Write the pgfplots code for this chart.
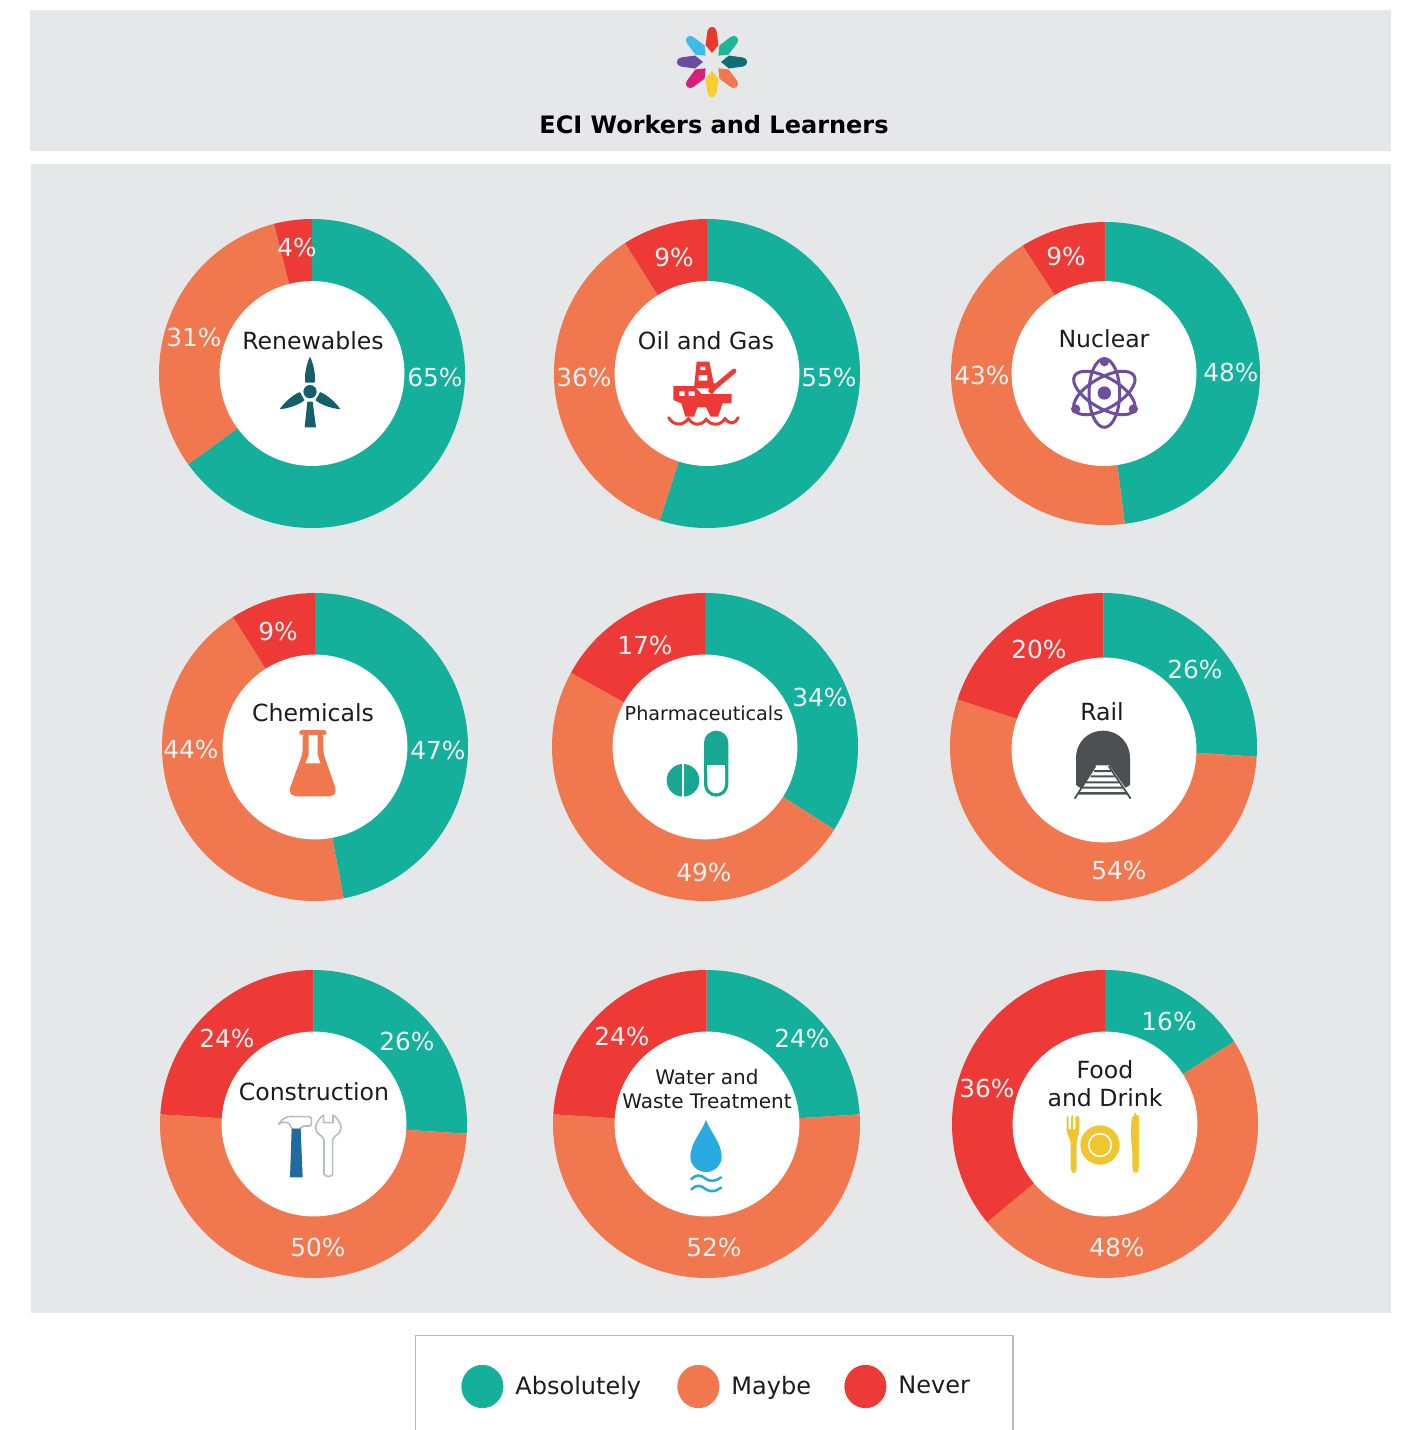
\documentclass[border=0pt]{standalone}
\usepackage{fontspec}
\setmainfont{DejaVu Sans}
\usepackage{pgfplots}
\usepackage{pgfplotstable}
\pgfplotsset{compat=1.18}

\definecolor{panel}{HTML}{E6E7E8}
\definecolor{cabs}{HTML}{14B09B}
\definecolor{cmay}{HTML}{F1784E}
\definecolor{cnev}{HTML}{EE3A36}
\definecolor{lbl}{HTML}{EEF1F0}
\definecolor{ink}{HTML}{1C1C1E}
\definecolor{turb}{HTML}{14606A}
\definecolor{atom}{HTML}{6F4E9E}
\definecolor{pill}{HTML}{17A792}
\definecolor{tunnel}{HTML}{4D5053}
\definecolor{hammer}{HTML}{1F6A9E}
\definecolor{tool}{HTML}{B4BCC8}
\definecolor{drop}{HTML}{29ABE2}
\definecolor{food}{HTML}{F1C530}

% one slice of a ring: centre comes from the plot, spec is rx:ry:start:pct
\def\parsespec#1:#2:#3:#4\relax{\def\wrx{#1}\def\wry{#2}\def\wst{#3}\def\wpc{#4}}
\pgfdeclareplotmark{wedge}{%
  \expandafter\parsespec\pgfplotspointmeta\relax
  \pgfmathsetmacro\wsa{90-3.6*\wst}%
  \pgfmathsetmacro\wea{\wsa-3.6*\wpc}%
  \pgfmathsetmacro\wx{0.5*\wrx}%
  \pgfmathsetmacro\wy{0.5*\wry}%
  \pgfpathmoveto{\pgfpointorigin}%
  \pgfpathlineto{\pgfpointpolar{\wsa}{\wx pt and \wy pt}}%
  \pgfpatharc{\wsa}{\wea}{\wx pt and \wy pt}%
  \pgfpathclose
  \pgfusepathqfill
}

% cx, cy in image pixels (cy negative, downwards), start and pct in percent clockwise from the top
\pgfplotstableread{
cx     cy      spec
312    -373.5  153:154.5:0:65
707    -373.5  153:154.5:0:55
1105.5 -373.5  154.5:151.5:0:48
315    -747    153:154:0:47
705    -747    153:154:0:34
1103.5 -747    153.5:154:0:26
313.5  -1124   153.5:154:0:26
706.5  -1124   153.5:154:0:24
1105   -1124   153:154:0:16
}\absolutely
\pgfplotstableread{
cx     cy      spec
312    -373.5  153:154.5:65:31
707    -373.5  153:154.5:55:36
1105.5 -373.5  154.5:151.5:48:43
315    -747    153:154:47:44
705    -747    153:154:34:49
1103.5 -747    153.5:154:26:54
313.5  -1124   153.5:154:26:50
706.5  -1124   153.5:154:24:52
1105   -1124   153:154:16:48
}\maybe
\pgfplotstableread{
cx     cy      spec
312    -373.5  153:154.5:96:4
707    -373.5  153:154.5:91:9
1105.5 -373.5  154.5:151.5:91:9
315    -747    153:154:91:9
705    -747    153:154:83:17
1103.5 -747    153.5:154:80:20
313.5  -1124   153.5:154:76:24
706.5  -1124   153.5:154:76:24
1105   -1124   153:154:64:36
}\never
\pgfplotstableread{
x    y
312  -373.5
707  -373.5
1104 -373.5
315  -747
705  -747
1104 -750
314  -1124
707  -1124
1105 -1124
}\holes
\pgfplotstableread{
x    y     pct
435  -377  65
194  -337  31
297  -247  4
829  -377  55
584  -377  36
674  -257  9
1231 -372  48
982  -375  43
1066 -256  9
438  -750  47
191  -749  44
278  -631  9
820  -697  34
704  -872  49
645  -645  17
1195 -669  26
1119 -870  54
1039 -649  20
407  -1041 26
318  -1247 50
227  -1038 24
802  -1038 24
714  -1247 52
622  -1036 24
1169 -1021 16
1117 -1247 48
987  -1088 36
}\labels

\tikzset{
  px/.style={x=0.5pt,y=-0.5pt},
  zoomat/.style 2 args={shift={(#1,#2)},x=0.166667pt,y=-0.166667pt},
  cat/.style={font=\fontsize{11.8}{14}\selectfont,text=ink,inner sep=0pt,align=center},
}

\begin{document}
\begin{tikzpicture}
\begin{scope}[px]
\path[use as bounding box] (0,0) rectangle (1408,1430);
\fill[panel] (30,10) rectangle (1391,151);
\fill[panel] (31,164) rectangle (1391,1313);
\draw[black!27,line width=0.9pt] (415.5,1440) -- (415.5,1335.5) -- (1013,1335.5) -- (1013,1440);
\end{scope}

\begin{axis}[
    at={(0pt,-715pt)},
    anchor=south west,
    scale only axis,
    width=704pt,
    height=715pt,
    xmin=0, xmax=1408,
    ymin=-1430, ymax=0,
    hide axis,
    clip=false,
    legend columns=3,
    legend style={
        at={(axis cs:461,-1386.5)},anchor=west,
        draw=none,fill=none,inner sep=0pt,
        nodes={inner sep=0pt},
        /tikz/column sep=6pt,
        font=\fontsize{12}{14}\selectfont,text=ink,
    },
    wedges/.style={
        scatter,only marks,mark=wedge,forget plot,
        scatter src=explicit symbolic,
        scatter/@pre marker code/.code={\pgfscope\pgfsetfillcolor{#1}},
        scatter/@post marker code/.code={\endpgfscope},
    },
    dot/.style={legend image code/.code={\fill[#1] (10.5pt,0pt) ellipse[x radius=10.3pt,y radius=10.6pt];}},
]
\addplot[wedges=cabs] table[x=cx,y=cy,meta=spec] {\absolutely};
\addplot[wedges=cmay] table[x=cx,y=cy,meta=spec] {\maybe};
\addplot[wedges=cnev] table[x=cx,y=cy,meta=spec] {\never};
\addlegendimage{dot=cabs}
\addlegendentry{\makebox[75pt][l]{Absolutely}}
\addlegendimage{dot=cmay}
\addlegendentry{\makebox[50.5pt][l]{Maybe}}
\addlegendimage{dot=cnev}
\addlegendentry{Never}
\addplot[only marks,mark=*,mark size=46pt,color=white,forget plot] table[x=x,y=y] {\holes};
\addplot[only marks,mark=none,forget plot,
    point meta=explicit symbolic,
    nodes near coords={\pgfplotspointmeta\%},
    every node near coord/.style={anchor=center,inner sep=0pt,text=lbl,
        font=\fontsize{12.4}{14}\selectfont},
] table[x=x,y=y,meta=pct] {\labels};
\end{axis}

\begin{scope}[px]
% header
\node[font=\fontsize{12}{14}\selectfont\bfseries,text=black,inner sep=0pt] at (714,125) {ECI Workers and Learners};
\foreach \a/\c in {0/E8392F,-45/1FB597,-90/0F6E73,-135/F0784E,-180/F4CF2F,-225/D81E7B,-270/6C4C9E,-315/3FBBE8}{
  \definecolor{pet}{HTML}{\c}
  \fill[pet,shift={(712,62)},rotate=\a]
     (0,-9) -- (-6.5,-17) -- (-4.5,-31) .. controls (-3.5,-36.5) and (3.5,-36.5) .. (4.5,-31) -- (6.5,-17) -- cycle;
}

% category names
\node[cat] at (313,341) {Renewables};
\node[cat] at (706,341) {Oil and Gas};
\node[cat] at (1104,339) {Nuclear};
\node[cat] at (313,713) {Chemicals};
\node[cat,font=\fontsize{9.6}{12}\selectfont] at (704,713) {Pharmaceuticals};
\node[cat] at (1102,712) {Rail};
\node[cat] at (314,1092) {Construction};
\node[cat,font=\fontsize{10}{11.6}\selectfont] at (707,1089) {Water and\\Waste Treatment};
\node[cat,font=\fontsize{11.8}{14}\selectfont] at (1105,1084) {Food\\and Drink};

% wind turbine
\begin{scope}[zoomat={220}{320}]
  \fill[turb] (270,215) circle (20);
  \foreach \a in {0,-120,120}{
    \fill[turb,shift={(270,215)},rotate=\a]
      (-14,-27) .. controls (-18,-50) and (-10,-85) .. (0,-105)
      .. controls (10,-85) and (18,-50) .. (14,-27) -- cycle;
  }
  \fill[turb] (262,245) -- (278,245) -- (288,322) -- (254,322) -- cycle;
\end{scope}

% oil rig
\begin{scope}[zoomat={620}{320},even odd rule]
  \fill[cnev] (230,125) -- (268,125) -- (284,205) -- (222,205) -- cycle
     (241,140) rectangle (256,150) (236,165) rectangle (262,182);
  \draw[cnev,line width=2.4pt,line cap=round] (272,212) -- (342,153);
  \fill[cnev] (262,190) -- (300,190) -- (275,225) -- cycle;
  \fill[cnev] (160,198) -- (222,198) -- (245,222) -- (335,222) -- (335,250) -- (308,250)
     -- (294,290) -- (272,290) -- (258,262) -- (232,262) -- (222,290) -- (196,290)
     -- (184,250) -- (160,240) -- cycle
     (178,214) rectangle (194,228) (206,214) rectangle (224,228);
  \draw[cnev,line width=1.5pt,line cap=round] (146,293) .. controls (160,318) and (190,318) .. (205,296)
     .. controls (220,318) and (245,318) .. (258,298) .. controls (275,318) and (300,318) .. (315,296)
     .. controls (330,315) and (345,312) .. (354,293);
\end{scope}

% atom
\begin{scope}[zoomat={1020}{320}]
  \foreach \a in {90,30,-30}{
    \draw[atom,line width=1.5pt,shift={(253,219)},rotate=\a] (0,0) ellipse[x radius=103,y radius=46];
  }
  \fill[atom] (253,219) circle (20);
  \fill[atom] (253,125) circle (14) (167,267) circle (14) (340,267) circle (14);
\end{scope}

% flask
\begin{scope}[zoomat={230}{690}]
  \fill[cmay,rounded corners=1.5pt] (207,120) rectangle (290,135);
  \fill[cmay,rounded corners=2pt] (218,130) -- (280,130) -- (280,190) -- (320,305) -- (308,319)
     -- (190,319) -- (176,305) -- (218,190) -- cycle;
  \fill[white] (236,135) -- (263,135) -- (263,195) -- (271,220) -- (226,220) -- (236,195) -- cycle;
\end{scope}

% pills
\begin{scope}[zoomat={620}{690}]
  \fill[pill] (189,271) circle (49);
  \fill[white] (185.5,215) rectangle (192.5,325);
  \fill[pill,rounded corners=6.1pt] (252,122) rectangle (325,320);
  \fill[white,rounded corners=4.5pt] (262,240) -- (262,310) -- (315,310) -- (315,240);
  \fill[white] (262,224) rectangle (315,250);
\end{scope}

% tunnel
\begin{scope}[zoomat={1020}{690}]
  \fill[tunnel] (168,285) -- (168,205) .. controls (168,155) and (205,122) .. (249,122)
     .. controls (293,122) and (330,155) .. (330,205) -- (330,285) -- (305,300) -- (190,300) -- cycle;
  \fill[white] (228,226) -- (268,226) -- (322,302) -- (340,330) -- (160,330) -- (178,302) -- cycle;
  \fill[tunnel] (222,240) rectangle (274,246) (212,256) rectangle (284,262)
     (198,274) rectangle (298,280) (176,306) rectangle (322,314) (186,290) rectangle (310,296);
  \draw[tunnel,line width=0.9pt] (226,228) -- (164,326) (266,228) -- (332,326);
\end{scope}

% hammer and spanner
\begin{scope}[zoomat={230}{1070}]
  \draw[tool,line width=0.8pt,rounded corners=1pt] (146,165) .. controls (155,145) and (175,138) .. (192,140)
     -- (244,140) -- (244,168) -- (215,168) -- (212,178) -- (184,178) -- (182,165)
     .. controls (170,155) and (155,155) .. cycle;
  \fill[hammer] (185,176) -- (212,176) -- (218,322) -- (180,322) -- cycle;
  \draw[tool,line width=0.8pt,line join=round] (281,135) -- (281,158) -- (309,158) -- (309,135)
     .. controls (325,145) and (340,170) .. (330,185) .. controls (325,195) and (310,198) .. (308,210)
     -- (308,312) .. controls (305,322) and (288,322) .. (282,312) -- (282,210)
     .. controls (280,198) and (265,195) .. (260,185) .. controls (250,170) and (265,145) .. (281,135) -- cycle;
\end{scope}

% water drop
\begin{scope}[zoomat={620}{1060}]
  \fill[drop] (258,180) .. controls (245,215) and (211,250) .. (211,290)
     .. controls (211,315) and (232,336) .. (258,336) .. controls (284,336) and (305,315) .. (305,290)
     .. controls (305,250) and (271,215) .. (258,180) -- cycle;
  \foreach \y in {357,388}{
    \draw[drop,line width=1.3pt,line cap=round] (214,\y) .. controls (228,\y-14) and (243,\y-14) .. (258,\y)
       .. controls (273,\y+10) and (290,\y+5) .. (303,\y-5);
  }
\end{scope}

% plate, fork and knife
\begin{scope}[zoomat={1020}{1050}]
  \fill[food] (240,285) circle (59);
  \draw[white,line width=0.8pt] (240,285) circle (34);
  \fill[food,rounded corners=1pt] (140,198) -- (146,198) -- (146,240) -- (153,240) -- (153,198) -- (159,198)
     -- (159,198) -- (159,240) -- (166,240) -- (166,198) -- (178,198) -- (178,245) -- (170,275)
     -- (170,362) -- (162,372) -- (152,362) -- (152,275) -- (140,245) -- cycle;
  \fill[food,rounded corners=2pt] (345,198) .. controls (352,198) and (357,205) .. (357,220)
     -- (357,362) -- (347,372) -- (337,362) -- (337,300) .. controls (330,250) and (335,205) .. cycle;
\end{scope}
\end{scope}
\end{tikzpicture}
\end{document}
